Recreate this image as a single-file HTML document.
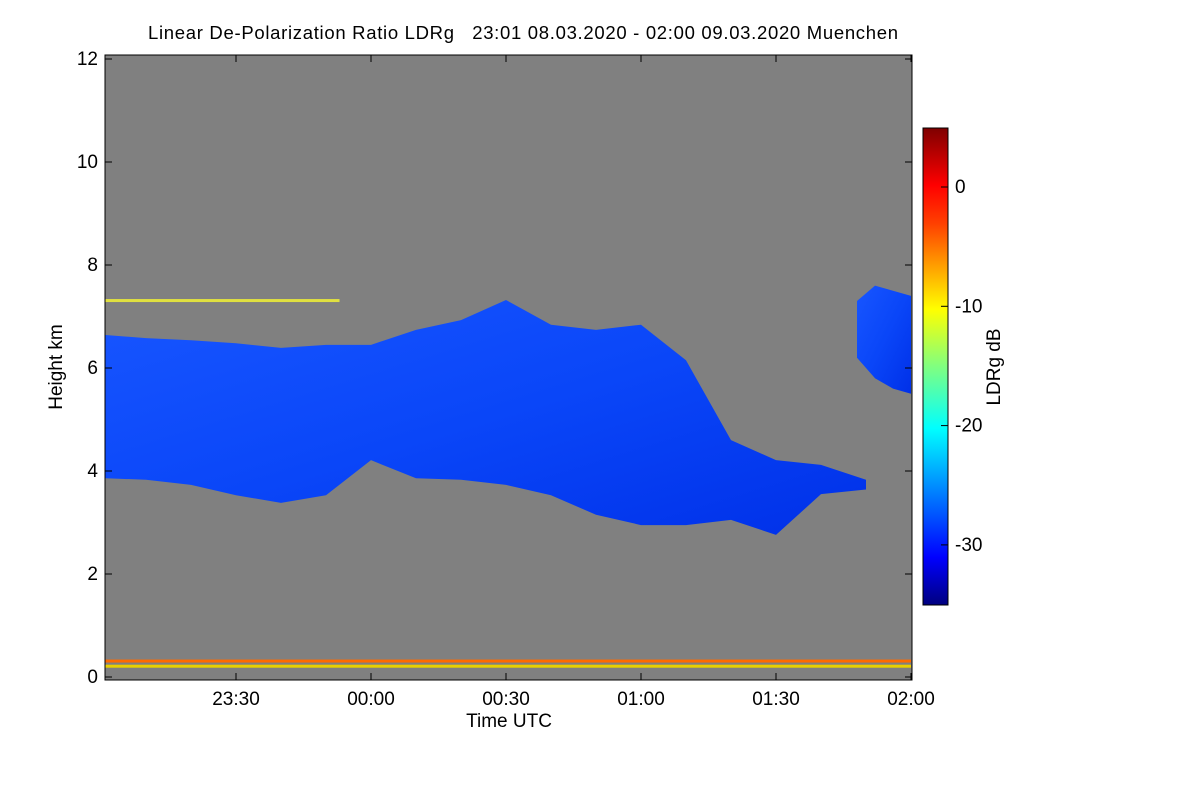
<!DOCTYPE html>
<html><head><meta charset="utf-8"><style>
body{margin:0;background:#fff;}
svg text{font-family:"Liberation Sans",Arial,sans-serif;fill:#000;}
</style></head><body>
<svg id="chart" width="1200" height="800" xmlns="http://www.w3.org/2000/svg">
<defs>
<linearGradient id="cb" x1="0" y1="1" x2="0" y2="0">
<stop offset="0" stop-color="#00007f"/>
<stop offset="0.1" stop-color="#0000ff"/>
<stop offset="0.37" stop-color="#00ffff"/>
<stop offset="0.5" stop-color="#80ff80"/>
<stop offset="0.62" stop-color="#ffff00"/>
<stop offset="0.8" stop-color="#ff4000"/>
<stop offset="0.88" stop-color="#ff0000"/>
<stop offset="1" stop-color="#7f0000"/>
</linearGradient>
<linearGradient id="cloudg" x1="0" y1="0" x2="1" y2="1">
<stop offset="0" stop-color="#1856ff"/>
<stop offset="0.5" stop-color="#0a46f8"/>
<stop offset="1" stop-color="#0030e8"/>
</linearGradient>
<clipPath id="plotclip"><rect x="105" y="55" width="807" height="625"/></clipPath>
</defs>
<text x="148" y="39" font-size="18.5" textLength="750" lengthAdjust="spacing" style="white-space:pre">Linear De-Polarization Ratio LDRg   23:01 08.03.2020 - 02:00 09.03.2020 Muenchen</text>
<rect x="105" y="55" width="807" height="625" fill="#808080"/>
<g id="marks" clip-path="url(#plotclip)"></g>
<rect x="105" y="55" width="807" height="625" fill="none" stroke="#000" stroke-width="1"/>
<g id="axes"></g>
<text x="0" y="0" font-size="19" text-anchor="middle" transform="translate(62,367) rotate(-90)">Height km</text>
<text x="509" y="727" font-size="19" text-anchor="middle">Time UTC</text>
<rect x="923" y="128" width="25" height="477" fill="url(#cb)" stroke="#000"/>
<g id="cbaxis"></g>
<text x="0" y="0" font-size="19" text-anchor="middle" transform="translate(1000,367) rotate(-90)">LDRg dB</text>
</svg>
<script>
// minutes after 23:00
const times = [1,10,20,30,40,50,60,70,80,90,100,110,120,130,140,150,160,170];
const cloudTop = [6.64,6.58,6.54,6.48,6.39,6.45,6.45,6.74,6.93,7.32,6.84,6.74,6.84,6.15,4.6,4.21,4.12,3.83];
const cloudBase = [3.86,3.83,3.73,3.53,3.38,3.53,4.21,3.86,3.83,3.73,3.53,3.15,2.95,2.95,3.05,2.76,3.55,3.64];
const cloud2Times = [168,172,176,180];
const cloud2Top = [7.3,7.6,7.5,7.4];
const cloud2Base = [6.2,5.8,5.6,5.5];
const layerHeights = [7.3,0.3,0.2];
const layerStart = [1,1,1];
const layerEnd = [53,180,180];
const layerColors = ['#e0e040','#ff6a00','#e8d000'];
const yTicks = [0,2,4,6,8,10,12];
const xTickMin = [30,60,90,120,150,180];
const xTickLabels = ['23:30','00:00','00:30','01:00','01:30','02:00'];
const cbTicks = [0,-10,-20,-30];

const NS='http://www.w3.org/2000/svg';
const X = t => 105.5 + (t-1)*4.5;
const Y = h => 677 - h*51.5;
const CB = v => 187 - v*11.93;
function mk(tag, attrs, parent){const e=document.createElementNS(NS,tag);for(const k in attrs)e.setAttribute(k,attrs[k]);parent.appendChild(e);return e;}
const marks=document.getElementById('marks');
function poly(ts,top,base,name){
  let d='M'+X(ts[0])+','+Y(top[0]);
  for(let i=1;i<ts.length;i++) d+=' L'+X(ts[i])+','+Y(top[i]);
  for(let i=ts.length-1;i>=0;i--) d+=' L'+X(ts[i])+','+Y(base[i]);
  const p=mk('path',{d:d+'Z',fill:'url(#cloudg)'},marks);
  
  
}
poly(times,cloudTop,cloudBase,'cloud-main');
poly(cloud2Times,cloud2Top,cloud2Base,'cloud-right');
for(let i=0;i<layerHeights.length;i++){
  const r=mk('rect',{x:X(layerStart[i]),y:Y(layerHeights[i])-2,width:X(layerEnd[i])-X(layerStart[i]),height:3,fill:layerColors[i]},marks);
  
  
}
const ax=document.getElementById('axes');
yTicks.forEach(v=>{
  mk('line',{x1:105,x2:112,y1:Y(v),y2:Y(v),stroke:'#000'},ax);
  mk('line',{x1:905,x2:912,y1:Y(v),y2:Y(v),stroke:'#000'},ax);
  const t=mk('text',{x:98,y:Y(v)+6,'font-size':19,'text-anchor':'end'},ax);t.textContent=v;
  
  
});
xTickMin.forEach((m,i)=>{
  mk('line',{x1:X(m),x2:X(m),y1:680,y2:673,stroke:'#000'},ax);
  mk('line',{x1:X(m),x2:X(m),y1:55,y2:62,stroke:'#000'},ax);
  const t=mk('text',{x:X(m),y:705,'font-size':19,'text-anchor':'middle'},ax);t.textContent=xTickLabels[i];
  
  
});
const cba=document.getElementById('cbaxis');
cbTicks.forEach(v=>{
  mk('line',{x1:941,x2:948,y1:CB(v),y2:CB(v),stroke:'#000'},cba);
  const t=mk('text',{x:955,y:CB(v)+6,'font-size':19},cba);t.textContent=v;
  
  
});
</script>
</body></html>
